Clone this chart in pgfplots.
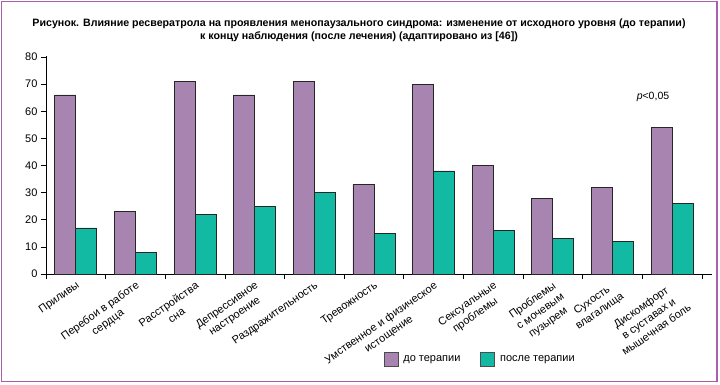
\documentclass[border=0pt]{standalone}
\usepackage{pgfplots}
\pgfplotsset{compat=1.18}
\usepackage{fontspec}
\setmainfont{Liberation Sans}
\setsansfont{Liberation Sans}
\definecolor{barpurple}{RGB}{168,133,176}
\definecolor{barteal}{RGB}{18,186,163}
\definecolor{framepurple}{RGB}{170,95,170}
\begin{document}
\begin{tikzpicture}
\useasboundingbox (0pt,0pt) rectangle (720pt,385pt);
\fill[white] (0pt,0pt) rectangle (720pt,385pt);
\draw[framepurple, line width=1.8pt] (1.5pt,3.5pt) rectangle (717pt,383.5pt);
\node[align=center, font=\fontsize{10.65}{13}\selectfont\bfseries] at (359pt,354.5pt)
  {Рисунок. Влияние ресвератрола на проявления менопаузального синдрома: изменение от исходного уровня (до терапии)\\
   к концу наблюдения (после лечения) (адаптировано из [46])};
\begin{axis}[
  at={(46pt,111pt)}, anchor=south west,
  scale only axis, width=666pt, height=218.4pt,
  xmin=-0.5, xmax=10.67, ymin=0, ymax=80.5,
  axis lines=left, axis line style={-, line width=0.8pt},
  ybar=0pt, bar width=21pt,
  ytick={0,10,...,80},
  xtick={0,...,10},
  minor xtick={-0.5,0.5,...,10.5},
  major x tick style={draw=none},
  minor tick length=5pt,
  major tick length=5pt,
  tick align=outside,
  tick style={black, line width=0.6pt},
  yticklabel style={font=\fontsize{11}{12}\selectfont},
  /pgf/number format/assume math mode=true,
  xticklabels={Приливы, Перебои в работе\\сердца, Расстройства\\сна, Депрессивное\\настроение, Раздражительность, Тревожность, Умственное и физическое\\истощение, Сексуальные\\проблемы, Проблемы\\с мочевым\\пузырем, Сухость\\влагалища, Дискомфорт\\в суставах и\\мышечная боль},
  xticklabel style={rotate=35, anchor=north east, align=center, inner sep=1pt, font=\fontsize{11}{13.5}\selectfont},
  legend style={at={(0.652,-0.389)}, anchor=center, draw=none, legend columns=2,
     font=\fontsize{11}{12}\selectfont,
     /tikz/every odd column/.append style={column sep=3pt},
     /tikz/every even column/.append style={column sep=18pt}},
  legend image code/.code={\draw[#1, draw=black!70, line width=0.6pt] (0pt,-7pt) rectangle (14pt,7pt);},
  clip=false,
]
\addplot[fill=barpurple, draw=black!85, line width=0.7pt] coordinates {(0,66) (1,23) (2,71) (3,66) (4,71) (5,33) (6,70) (7,40) (8,28) (9,32) (10,54)};
\addplot[fill=barteal, draw=black!85, line width=0.7pt] coordinates {(0,17) (1,8) (2,22) (3,25) (4,30) (5,15) (6,38) (7,16) (8,13) (9,12) (10,26)};
\legend{до терапии, после терапии}
\node[font=\fontsize{10.5}{12}\selectfont] at (axis cs:9.68,65.3) {\textit{p}<0,05};
\end{axis}
\end{tikzpicture}
\end{document}
